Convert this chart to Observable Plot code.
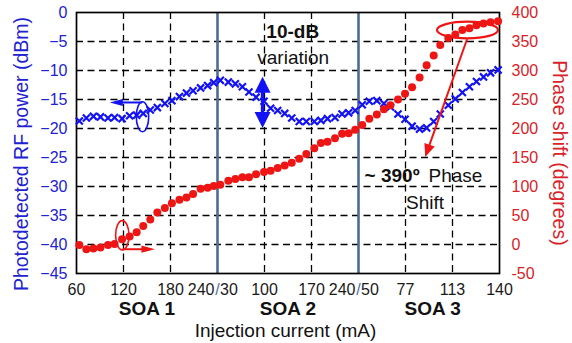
<!DOCTYPE html>
<html>
<head>
<meta charset="utf-8">
<script src="https://cdn.jsdelivr.net/npm/d3@7"></script>
<script src="https://cdn.jsdelivr.net/npm/@observablehq/plot@0.6"></script>
<style>
  html, body { margin: 0; padding: 0; background: #fff; }
  #chart { width: 572px; height: 343px; }
</style>
</head>
<body>
<div id="chart"></div>
<script>
// ---- data (x = position along the concatenated SOA1|SOA2|SOA3 current axis, tick index units) ----
const pos = [
  0.06, 0.21, 0.36, 0.51, 0.67, 0.81, 0.97, 1.13, 1.28, 1.42, 1.57, 1.72, 1.88, 2.03, 2.19, 2.34, 2.48, 2.64, 2.79, 2.92,
  3.06, 3.23, 3.38, 3.53, 3.67, 3.82, 3.99, 4.13, 4.28, 4.43, 4.58, 4.74, 4.89, 5.06, 5.20, 5.34, 5.50, 5.65, 5.79, 5.93,
  6.08, 6.23, 6.39, 6.54, 6.68, 6.84, 6.99, 7.14, 7.30, 7.45, 7.60, 7.74, 7.91, 8.06, 8.21, 8.36, 8.51, 8.66, 8.81, 8.97
];
const rfPower = [ // dBm
  -18.7, -18.2, -17.9, -18.0, -18.2, -18.1, -18.3, -17.8, -17.7, -17.4, -16.8, -16.4, -15.7, -15.2, -14.5, -13.9, -13.5, -13.0, -12.6, -12.1,
  -11.7, -12.0, -12.3, -12.8, -13.7, -14.6, -15.3, -16.5, -16.9, -17.4, -18.2, -18.8, -18.8, -18.8, -18.6, -18.3, -18.1, -17.5, -17.3, -16.9,
  -15.9, -15.3, -15.2, -15.7, -16.3, -17.5, -18.4, -19.6, -20.1, -19.9, -18.8, -17.5, -16.0, -14.9, -13.8, -12.8, -11.9, -11.1, -10.4, -9.9
];
const phaseShift = [ // degrees
  -1, -8, -7, -5, -1, 1, 9, 14, 21, 32, 43, 55, 63, 71, 77, 81, 87, 96, 98, 101,
  103, 110, 113, 116, 116, 121, 125, 127, 132, 136, 141, 148, 156, 166, 175, 177, 183, 191, 192, 198,
  206, 217, 224, 233, 240, 250, 260, 271, 288, 309, 326, 344, 356, 362, 370, 373, 378, 381, 383, 385
];
const xTickLabels = ["60", "120", "180", "240/30", "100", "170", "240/50", "77", "113", "140"];
const leftTicks = [-45, -40, -35, -30, -25, -20, -15, -10, -5, 0];
const soaNames = ["SOA 1", "SOA 2", "SOA 3"];
const soaCenters = [1.5, 4.5, 7.58];
const soaBoundaries = [3, 6];

// ---- styling ----
const BLUE = "#1212f5", BLUE_TXT = "#2222d0", RED = "#ee1515", RED_TXT = "#d8232a", SEP = "#4d6c95";
const FONT = "'Liberation Sans', Arial, Helvetica, sans-serif";
// right axis (degrees) mapped on left axis (dBm): -50..400 deg <-> -45..0 dBm
const degToY = d => d / 10 - 40;

const blueData = pos.map((p, i) => ({p, v: rfPower[i]}));
const redData = pos.map((p, i) => ({p, v: phaseShift[i]}));

const plainTicks = xTickLabels.map((t, i) => ({i, t})).filter(d => !d.t.includes("/"));
const splitTicks = xTickLabels.map((t, i) => ({i, t})).filter(d => d.t.includes("/"))
  .map(d => ({i: d.i, a: d.t.split("/")[0], b: d.t.split("/")[1]}));

// annotation shapes (data coordinates for anchors, pixel sizes)
const ellipses = [
  {x: 1.415, y: -18.05, rx: 6.2, ry: 15, color: BLUE, w: 1.6},
  {x: 0.985, y: -38.5, rx: 6.7, ry: 14.7, color: RED, w: 1.6},
  {x: 8.33, y: -3.1, rx: 30.5, ry: 8.3, color: RED, w: 2.2}
];
const arrows = [
  {x1: 1.41, y1: -15.6, x2: 0.72, y2: -15.6, head: 13, half: 3.6, w: 2, color: BLUE},
  {x1: 0.99, y1: -40.9, x2: 1.68, y2: -40.9, head: 13.5, half: 3.6, w: 2, color: RED},
  {x1: 3.97, y1: -15.58, x2: 3.97, y2: -11.15, head: 16, half: 8, w: 3.5, color: BLUE},
  {x1: 3.97, y1: -15.58, x2: 3.97, y2: -20.0, head: 16, half: 8, w: 3.5, color: BLUE},
  {x1: 8.32, y1: -4.7, x2: 7.43, y2: -25.0, head: 13, half: 5.5, w: 2, color: RED}
];

function annotate(index, scales) {
  const x = scales.x, y = scales.y;
  const g = d3.create("svg:g");
  for (const e of ellipses) {
    g.append("ellipse").attr("cx", x(e.x)).attr("cy", y(e.y)).attr("rx", e.rx).attr("ry", e.ry)
      .attr("fill", "none").attr("stroke", e.color).attr("stroke-width", e.w);
  }
  for (const a of arrows) {
    const x1 = x(a.x1), y1 = y(a.y1), x2 = x(a.x2), y2 = y(a.y2);
    const dx = x2 - x1, dy = y2 - y1, len = Math.hypot(dx, dy), ux = dx / len, uy = dy / len;
    const bx = x2 - ux * a.head, by = y2 - uy * a.head;
    g.append("line").attr("x1", x1).attr("y1", y1).attr("x2", bx + ux).attr("y2", by + uy)
      .attr("stroke", a.color).attr("stroke-width", a.w);
    g.append("path")
      .attr("d", `M${x2},${y2}L${bx - uy * a.half},${by + ux * a.half}L${bx + uy * a.half},${by - ux * a.half}Z`)
      .attr("fill", a.color);
  }
  return g.node();
}

const grid = {stroke: "#000", strokeOpacity: 1, strokeWidth: 1.3, strokeDasharray: "7,4.5"};
const below = {frameAnchor: "bottom", lineAnchor: "middle"};
const TICK = 16;

const chart = Plot.plot({
  width: 572,
  height: 343,
  marginLeft: 76,
  marginRight: 73,
  marginTop: 12,
  marginBottom: 70,
  x: {domain: [0, 9]},
  y: {domain: [-45, 0]},
  style: {fontFamily: FONT, fontSize: "16px", background: "#fff", color: "#111", overflow: "visible"},
  marks: [
    Plot.gridY(leftTicks.slice(1, -1), grid),
    Plot.gridX(xTickLabels.map((_, i) => i).filter(i => i > 0 && i < 9 && !soaBoundaries.includes(i)), grid),
    Plot.ruleX(soaBoundaries, {stroke: SEP, strokeWidth: 2.6}),
    Plot.frame({stroke: "#000", strokeWidth: 1.7}),
    Plot.axisY(leftTicks, {anchor: "left", tickSize: 0, tickPadding: 9, color: BLUE_TXT, label: null, fontSize: TICK}),
    Plot.axisY(leftTicks, {anchor: "right", tickSize: 0, tickPadding: 12, color: RED_TXT, label: null, fontSize: TICK,
      tickFormat: d => String(Math.round(d * 10 + 400))}),
    Plot.axisX(plainTicks.map(d => d.i), {tickSize: 0, tickPadding: 10, label: null, fontSize: TICK, color: "#1a1a1a",
      tickFormat: i => xTickLabels[i]}),
    Plot.text(splitTicks, {...below, x: "i", text: "a", dy: 16, dx: -3, textAnchor: "end", fontSize: TICK, fill: "#1a1a1a"}),
    Plot.text(splitTicks, {...below, x: "i", text: () => "/", dy: 16, fontSize: TICK, fill: "#4d6fb0"}),
    Plot.text(splitTicks, {...below, x: "i", text: "b", dy: 16, dx: 2.5, textAnchor: "start", fontSize: TICK, fill: "#1a1a1a"}),
    Plot.text(soaNames, {...below, x: (d, i) => soaCenters[i], text: d => d, dy: 35, fontSize: 19, fontWeight: "bold", fill: "#111"}),
    Plot.text(["Injection current (mA)"], {...below, dy: 57, dx: -2.5, fontSize: 19, fill: "#111"}),
    Plot.text(["Photodetected RF power (dBm)"], {frameAnchor: "left", textAnchor: "middle", lineAnchor: "middle", dx: -55, dy: 11, rotate: -90, fontSize: 19.5, fill: BLUE_TXT}),
    Plot.text(["Phase shift (degrees)"], {frameAnchor: "right", textAnchor: "middle", lineAnchor: "middle", dx: 60, dy: 10, rotate: 90, fontSize: 19.5, fill: RED_TXT}),
    Plot.dot(blueData, {x: "p", y: "v", symbol: "times", r: 3.3, stroke: BLUE, strokeWidth: 2.2}),
    Plot.dot(redData, {x: "p", y: d => degToY(d.v), r: 4, fill: RED, stroke: "none"}),
    annotate,
    Plot.text(["10-dB"], {x: 4.6, y: -3.4, fontSize: 19, fontWeight: "bold", fill: "#111"}),
    Plot.text(["variation"], {x: 4.61, y: -7.8, fontSize: 19, fill: "#111"}),
    Plot.text(["~ 390º"], {x: 7.30, y: -28.2, textAnchor: "end", fontSize: 19, fontWeight: "bold", fill: "#111"}),
    Plot.text(["Phase"], {x: 7.49, y: -28.2, textAnchor: "start", fontSize: 19, fill: "#111"}),
    Plot.text(["Shift"], {x: 7.415, y: -32.9, fontSize: 19, fill: "#111"})
  ]
});
document.getElementById("chart").appendChild(chart);
</script>
</body>
</html>
